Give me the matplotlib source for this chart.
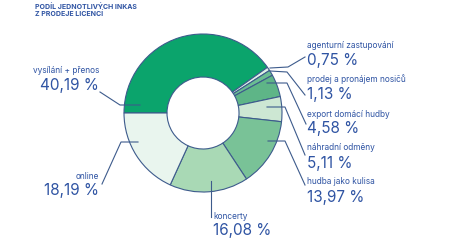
import matplotlib.pyplot as plt

# podily inkas (v %)
kategorie = ['vysílání + přenos', 'agenturní zastupování', 'prodej a pronájem nosičů',
             'export domácí hudby', 'náhradní odměny', 'hudba jako kulisa',
             'koncerty', 'online']
hodnoty = [40.19, 0.75, 1.13, 4.58, 5.11, 13.97, 16.08, 18.19]
popisky = ['40,19 %', '0,75 %', '1,13 %', '4,58 %', '5,11 %', '13,97 %', '16,08 %', '18,19 %']
barvy = ['#0ba46c', '#dff0e6', '#6abd92', '#5eb587', '#cde7d3', '#79c297', '#a9d9b5', '#e9f5ee']

modra = '#2f54a3'
cara = '#3d5b8c'

fig = plt.figure(figsize=(4.5, 2.53), dpi=100)
ax = fig.add_axes([0, 0, 1, 1])

# obraz ma y dolu, proto counterclock=True kresli po smeru hodin
ax.pie(hodnoty, colors=barvy, startangle=180, counterclock=True,
       center=(203, 114), radius=79,
       wedgeprops=dict(width=43, edgecolor=cara, linewidth=0.8))
ax.set_xlim(0, 450)
ax.set_ylim(253, 0)
ax.set_aspect('equal')
ax.axis('off')

ax.text(35, 16, 'PODÍL JEDNOTLIVÝCH INKAS\nZ PRODEJE LICENCÍ', color=modra,
        fontsize=5, fontweight='bold', family='Inter', va='baseline', linespacing=1.1)

# pozice popisku: (x, y popisku, y hodnoty, zarovnani)
pozice = [
    (99, 73, 90, 'right'),
    (307, 48, 65, 'left'),
    (307, 82, 99, 'left'),
    (307, 117, 133, 'left'),
    (307, 150, 168, 'left'),
    (307, 184, 202, 'left'),
    (213, 219, 235, 'left'),
    (99, 179, 195, 'right'),
]
# vodici cary
cary = [
    [(100, 93), (120, 106), (140, 106)],
    [(270, 69), (288, 68), (305, 58)],
    [(270, 72), (287, 73), (305, 96)],
    [(267, 84), (287, 84), (306, 125)],
    [(267, 108), (285, 108), (305, 156)],
    [(268, 142), (285, 142), (305, 186)],
    [(211, 182), (211, 218)],
    [(102, 185), (121, 143), (138, 143)],
]

for i in range(len(kategorie)):
    x, y1, y2, ha = pozice[i]
    ax.text(x, y1, kategorie[i], color=modra, fontsize=6, family='Inter',
            ha=ha, va='baseline')
    ax.text(x, y2, popisky[i], color=modra, fontsize=11, family='Inter',
            ha=ha, va='baseline')
    xs = [p[0] for p in cary[i]]
    ys = [p[1] for p in cary[i]]
    ax.plot(xs, ys, color=cara, linewidth=0.8)

fig.savefig('out.png', dpi=100)
